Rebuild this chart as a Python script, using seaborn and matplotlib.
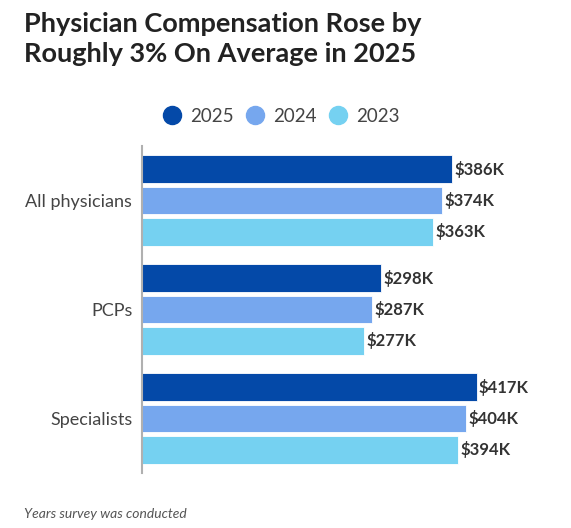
import pandas as pd
import matplotlib.pyplot as plt
import seaborn as sns
from matplotlib.lines import Line2D

# Data
groups = ["All physicians", "PCPs", "Specialists"]
years = ["2025", "2024", "2023"]
comp_2025 = [386, 298, 417]
comp_2024 = [374, 287, 404]
comp_2023 = [363, 277, 394]
colors = ["#0449A8", "#76A7EE", "#75D1F1"]

rows = []
for year, vals in zip(years, [comp_2025, comp_2024, comp_2023]):
    for g, v in zip(groups, vals):
        rows.append({"Group": g, "Year": year, "Comp": v})
data = pd.DataFrame(rows)

sns.set_style("white")
plt.rcParams['font.family'] = ['Lato', 'DejaVu Sans']

fig = plt.figure(figsize=(5.71, 5.28), dpi=100)
ax = fig.add_axes([142 / 571, 1 - 473 / 528, (540 - 142) / 571, 327 / 528])

sns.barplot(data=data, y="Group", x="Comp", hue="Year", hue_order=years,
            palette=colors, saturation=1, orient="h", width=0.855, gap=0.1,
            edgecolor="white", linewidth=0.6, ax=ax, legend=False)

for cont in ax.containers:
    ax.bar_label(cont, labels=[f"${v:.0f}K" for v in cont.datavalues],
                 padding=1.5, fontsize=12, fontweight='bold', color="#333333")

ax.set_xlim(0, (540 - 142) / 0.803)
ax.set_ylim(2.5, -0.5)
ax.set_xlabel("")
ax.set_ylabel("")
ax.set_xticks([])
ax.tick_params(axis='y', length=0, pad=7, labelsize=13, labelcolor="#444444")
for s in ["top", "right", "bottom"]:
    ax.spines[s].set_visible(False)
ax.spines["left"].set_color("#b0b0b0")
ax.spines["left"].set_linewidth(1.5)

# Title
fig.text(24 / 571, 1 - 12 / 528, "Physician Compensation Rose by\nRoughly 3% On Average in 2025",
         ha="left", va="top", fontsize=19.5, fontweight="bold", color="#222222",
         linespacing=1.3)

# Legend
handles = [Line2D([0], [0], marker="o", linestyle="", markersize=13,
                  markerfacecolor=c, markeredgecolor=c) for c in colors]
fig.legend(handles, years, loc="center", bbox_to_anchor=(281 / 571, 1 - 116 / 528),
           ncol=3, frameon=False, fontsize=13.5, labelcolor="#444444",
           handlelength=1.0, handletextpad=0.5, columnspacing=0.6)

# Footnote
fig.text(24 / 571, 1 - 514 / 528, "Years survey was conducted", ha="left", va="center",
         fontsize=10, style="italic", color="#555555")

fig.savefig("out.png", dpi=100)
